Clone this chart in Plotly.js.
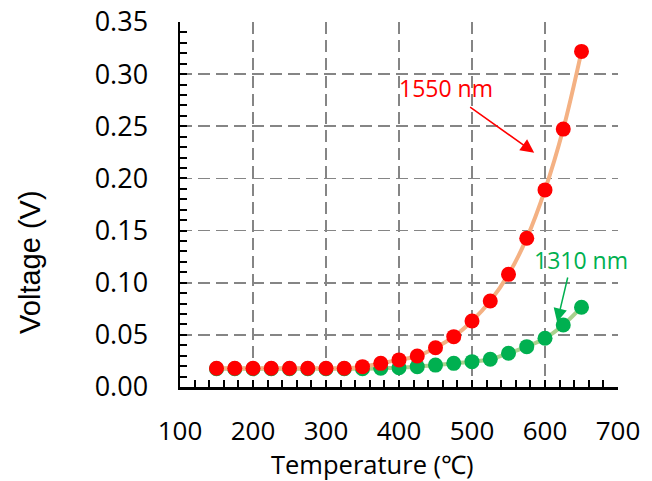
<!DOCTYPE html>
<html>
<head>
<meta charset="utf-8">
<script src="https://cdn.plot.ly/plotly-3.0.1.min.js"></script>
<style>html,body{margin:0;padding:0;background:#fff}#chart{width:652px;height:481px}</style>
</head>
<body>
<div id="chart"></div>
<script>
// Data
const temperature = [150,175,200,225,250,275,300,325,350,375,400,425,450,475,500,525,550,575,600,625,650];
const voltage1550 = [0.018,0.018,0.018,0.018,0.018,0.018,0.018,0.018,0.0195,0.0227,0.026,0.0297,0.0377,0.0483,0.0633,0.0825,0.108,0.1427,0.189,0.2473,0.3218];
const voltage1310 = [0.0175,0.0175,0.0175,0.0175,0.0175,0.0175,0.0175,0.0175,0.0175,0.018,0.0185,0.0195,0.021,0.0227,0.0243,0.0266,0.0323,0.0387,0.0467,0.0595,0.0765];
const seriesNames = ["1550 nm","1310 nm"];
const xTitle = "Temperature (℃)";
const yTitle = "Voltage (V)";

const xTickFont = {family: "Open Sans, sans-serif", size: 26, color: "#000"};
const yTickFont = {family: "Open Sans, sans-serif", size: 27, color: "#000"};
const gridStyle = {showgrid: true, gridcolor: "#858585", gridwidth: 1.6, griddash: "12px,6px"};

const traces = [
  {x: temperature, y: voltage1310, name: seriesNames[1], type: "scatter", mode: "lines+markers",
   line: {color: "#A9D18E", width: 4, shape: "spline"},
   marker: {color: "#00B050", size: 15}},
  {x: temperature, y: voltage1550, name: seriesNames[0], type: "scatter", mode: "lines+markers",
   line: {color: "#F4B183", width: 4, shape: "spline"},
   marker: {color: "#FF0000", size: 15}}
];

const layout = {
  width: 652, height: 481,
  margin: {l: 180, r: 34, t: 22, b: 94},
  paper_bgcolor: "#fff", plot_bgcolor: "#fff",
  showlegend: false,
  xaxis: Object.assign({
    range: [100, 700], dtick: 100, tick0: 100,
    showline: true, linecolor: "#000", linewidth: 2.5,
    ticks: "inside", ticklen: 7, tickwidth: 2, tickcolor: "#000",
    minor: {dtick: 20, ticks: "inside", ticklen: 7, tickwidth: 2, tickcolor: "#000", showgrid: false},
    tickfont: xTickFont, ticklabelstandoff: 19, zeroline: false
  }, gridStyle),
  yaxis: Object.assign({
    range: [0, 0.35], dtick: 0.05, tick0: 0, tickformat: ".2f",
    showline: true, linecolor: "#000", linewidth: 2.5,
    ticks: "inside", ticklen: 7, tickwidth: 2, tickcolor: "#000",
    minor: {dtick: 0.01, ticks: "inside", ticklen: 7, tickwidth: 2, tickcolor: "#000", showgrid: false},
    tickfont: yTickFont, ticklabelstandoff: 24, zeroline: false
  }, gridStyle),
  annotations: [
    {text: seriesNames[0], xref: "x", yref: "y", x: 465, y: 0.2867, showarrow: false,
     font: {family: "Open Sans, sans-serif", size: 23, color: "#FF0000"}},
    {text: "", xref: "x", yref: "y", x: 585.2, y: 0.2247, axref: "x", ayref: "y", ax: 495.4, ay: 0.2694,
     showarrow: true, arrowhead: 2, arrowsize: 1.8, arrowwidth: 1.5, arrowcolor: "#FF0000"},
    {text: seriesNames[1], xref: "x", yref: "y", x: 649.4, y: 0.1218, showarrow: false,
     font: {family: "Open Sans, sans-serif", size: 23, color: "#00B050"}},
    {text: "", xref: "x", yref: "y", x: 616.6, y: 0.0623, axref: "x", ayref: "y", ax: 631.6, ay: 0.1064,
     showarrow: true, arrowhead: 2, arrowsize: 1.8, arrowwidth: 1.5, arrowcolor: "#00B050"},
    {text: yTitle, xref: "paper", yref: "paper", x: -0.343, y: 0.342, textangle: -90, showarrow: false,
     xanchor: "center", yanchor: "middle",
     font: {family: "Liberation Sans, Arial, sans-serif", size: 29, color: "#000"}},
    {text: xTitle, xref: "paper", yref: "paper", x: 0.4385, y: -0.212, showarrow: false,
     xanchor: "center", yanchor: "middle",
     font: {family: "Open Sans, sans-serif", size: 25.5, color: "#000"}}
  ]
};

Plotly.newPlot("chart", traces, layout, {displayModeBar: false, staticPlot: true});
</script>
</body>
</html>
